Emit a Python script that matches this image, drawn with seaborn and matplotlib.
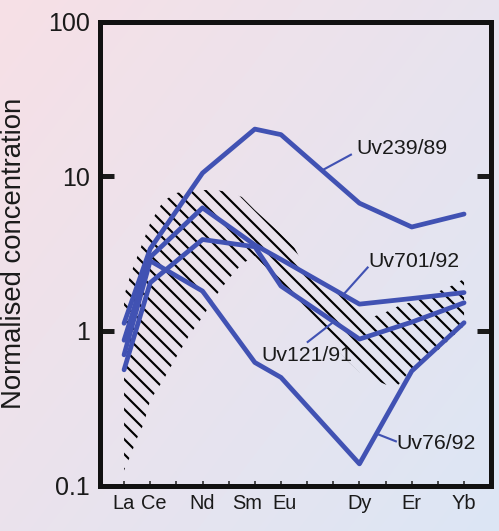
import numpy as np
import pandas as pd
import matplotlib
matplotlib.use("Agg")
import matplotlib.pyplot as plt
import matplotlib.transforms as mtransforms
import seaborn as sns

# Rare earth elements on the x axis (positioned by atomic number)
ree_symbols = ["La", "Ce", "Pr", "Nd", "Pm", "Sm", "Eu", "Gd", "Tb", "Dy", "Ho", "Er", "Tm", "Yb"]
ree_numbers = list(range(57, 71))
shown_labels = ["La", "Ce", "Nd", "Sm", "Eu", "Dy", "Er", "Yb"]

# Measured elements and normalised concentrations per sample
sample_elements = ["La", "Ce", "Nd", "Sm", "Eu", "Dy", "Er", "Yb"]
uv239_89 = [1.12, 3.4, 10.5, 20.2, 18.6, 6.7, 4.7, 5.7]
uv701_92 = [0.87, 3.0, 6.25, 3.6, 2.9, 1.49, 1.62, 1.77]
uv121_91 = [0.56, 2.05, 3.9, 3.5, 1.95, 0.885, 1.14, 1.52]
uv76_92 = [0.70, 2.84, 1.81, 0.625, 0.50, 0.138, 0.55, 1.13]
sample_names = ["Uv239/89", "Uv701/92", "Uv121/91", "Uv76/92"]

# Envelope of the reference field (hatched band)
band_z = [57, 57.25, 57.5, 57.75, 58, 58.5, 59, 59.5, 60, 60.5, 61, 61.5, 62, 62.5,
          63, 63.5, 64, 64.5, 65, 65.5, 66, 66.5, 67, 67.5, 68, 68.5, 69, 69.5, 70]
band_high = [1.68, 2.32, 3.01, 3.87, 4.99, 6.92, 7.80, 8.09, 8.15, 8.15, 7.91, 7.35, 6.05, 5.06,
             4.24, 3.49, 2.40, 2.13, 1.89, 1.66, 1.41, 1.23, 1.32, 1.45, 1.54, 1.66, 1.79, 1.95, 2.17]
band_low = [0.125, 0.157, 0.203, 0.250, 0.357, 0.481, 0.678, 0.94, 1.23, 1.68, 2.17, 2.71, 3.05, 2.48,
            1.89, 1.63, 1.32, 1.04, 0.81, 0.65, 0.54, 0.49, 0.45, 0.45, 0.57, 0.65, 0.75, 0.90, 1.08]

z_of = dict(zip(ree_symbols, ree_numbers))
series = {"Uv239/89": uv239_89, "Uv701/92": uv701_92,
          "Uv121/91": uv121_91, "Uv76/92": uv76_92}
df = pd.DataFrame([
    {"sample": name, "Z": z_of[el], "conc": v}
    for name in sample_names
    for el, v in zip(sample_elements, series[name])
])

sns.set_style("ticks")
plt.rcParams["font.family"] = ["Liberation Sans", "DejaVu Sans"]
plt.rcParams["hatch.linewidth"] = 1.7
plt.rcParams["hatch.color"] = "black"

DPI = 90
W, H = 499, 531
fig = plt.figure(figsize=(W / DPI, H / DPI), dpi=DPI)

# soft diagonal pink-to-blue backdrop
bg = fig.add_axes([0, 0, 1, 1], zorder=-10)
yy, xx = np.mgrid[0:1:H * 1j, 0:1:W * 1j]
t = np.clip(0.55 * xx + 0.45 * yy, 0, 1)[..., None]
c0 = np.array([247, 224, 230]) / 255
c1 = np.array([220, 230, 245]) / 255
bg.imshow(c0 + (c1 - c0) * t, aspect="auto", extent=[0, 1, 0, 1])
bg.set_axis_off()

left, right, top, bottom = 100, 491, 21.7, 485.5
ax = fig.add_axes([left / W, 1 - bottom / H, (right - left) / W, (bottom - top) / H])
ax.patch.set_alpha(0)

blue = "#4152b3"

# hatched field
ax.fill_between(band_z, band_low, band_high, facecolor="none", edgecolor="black",
                hatch="\\\\", linewidth=0, zorder=1)

sns.lineplot(data=df, x="Z", y="conc", units="sample", estimator=None, sort=False,
             color=blue, linewidth=3.8, ax=ax, zorder=3, legend=False)

ax.set_yscale("log")
ax.set_ylim(0.1, 100)
ax.set_xlim(56.08, 71.03)

ax.set_yticks([0.1, 1, 10, 100])
ax.set_yticklabels(["0.1", "1", "10", "100"])
ax.yaxis.set_minor_locator(matplotlib.ticker.NullLocator())
ax.set_xticks(ree_numbers)
ax.set_xticklabels([s if s in shown_labels else "" for s in ree_symbols])

ax.tick_params(axis="y", which="major", direction="in", length=11, width=4,
               left=True, right=True, labelsize=20, pad=8, colors="#1a1a1a")
ax.tick_params(axis="x", which="major", direction="in", length=4, width=1.2,
               labelsize=16, pad=7, colors="#1a1a1a")

# nudge crowded element labels apart
nudges_pt = {"Ce": 3.2, "Sm": -6.4, "Eu": 3.2}
for lab in ax.get_xticklabels():
    dx = nudges_pt.get(lab.get_text(), 0)
    if dx:
        lab.set_transform(lab.get_transform() +
                          mtransforms.ScaledTranslation(dx / 72, 0, fig.dpi_scale_trans))

for sp in ax.spines.values():
    sp.set_visible(True)
    sp.set_linewidth(4)
    sp.set_color("#111111")

ax.set_xlabel("")
ax.set_ylabel("Normalised concentration", fontsize=22, color="#1a1a1a")
ax.yaxis.set_label_coords(-0.187, 0.5)

# sample labels with leader lines
label_specs = [
    ("Uv239/89", (65.90, 15.2), "left", (65.71, 13.9), (64.56, 10.9)),
    ("Uv701/92", (66.34, 2.83), "left", (66.34, 2.60), (65.39, 1.72)),
    ("Uv121/91", (64.00, 0.698), "center", (63.99, 0.84), (64.97, 1.13)),
    ("Uv76/92", (67.43, 0.188), "left", (67.43, 0.192), (66.66, 0.216)),
]
for text, (tx, ty), ha, p0, p1 in label_specs:
    ax.plot([p0[0], p1[0]], [p0[1], p1[1]], color=blue, lw=1.7, zorder=3,
            solid_capstyle="butt")
    ax.text(tx, ty, text, ha=ha, va="center", fontsize=17, color="#1a1a1a", zorder=4)

fig.savefig("out.png", dpi=DPI)
